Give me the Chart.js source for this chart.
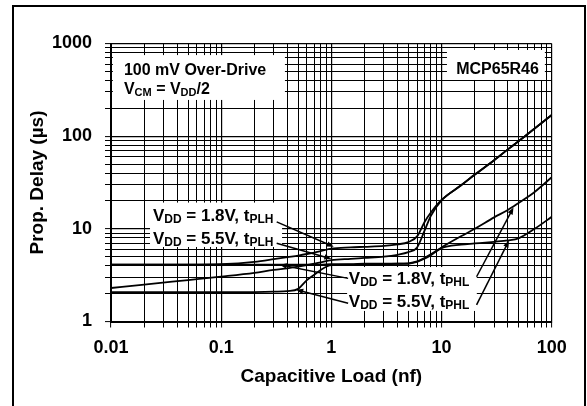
<!DOCTYPE html>
<html>
<head>
<meta charset="utf-8">
<script src="https://cdn.jsdelivr.net/npm/chart.js@4.4.0/dist/chart.umd.min.js"></script>
<style>
  html, body { margin: 0; padding: 0; background: #fff; }
  #wrap { width: 587px; height: 406px; }
</style>
</head>
<body>
<div id="wrap"><canvas id="delayChart" width="587" height="406"></canvas></div>
<script>
// capacitive load (nF)
const capLoad = [0.01, 0.02, 0.05, 0.1, 0.2, 0.3, 0.4, 0.5, 0.6, 0.7, 0.8, 1, 1.5, 2, 3, 4, 5, 6, 7, 8, 10, 15, 20, 30, 40, 50, 70, 100];

// propagation delay (us)
const vdd18Plh = [4.1, 4.1, 4.1, 4.15, 4.4, 4.7, 4.95, 5.15, 5.35, 5.55, 5.75, 6.1, 6.3, 6.4, 6.55, 6.8, 7.2, 8.3, 11.8, 15, 20.5, 29.5, 38.5, 55, 72, 88, 121, 169];
const vdd55Plh = [2.3, 2.5, 2.8, 3.05, 3.35, 3.6, 3.75, 3.9, 4.05, 4.2, 4.35, 4.6, 4.75, 4.85, 5.0, 5.25, 5.6, 6.3, 9.5, 13.8, 20.3, 29.3, 38.3, 55, 72, 88, 121, 169];
const vdd18Phl = [4.1, 4.1, 4.1, 4.1, 4.1, 4.1, 4.1, 4.1, 4.1, 4.1, 4.1, 4.15, 4.15, 4.2, 4.2, 4.2, 4.25, 4.45, 4.85, 5.3, 6.3, 8.3, 10, 13.3, 16, 19, 25, 36];
const vdd55Phl = [2.07, 2.07, 2.07, 2.07, 2.08, 2.1, 2.13, 2.25, 2.8, 3.2, 3.6, 4.05, 4.1, 4.15, 4.15, 4.2, 4.2, 4.4, 4.75, 5.2, 6.2, 6.75, 6.95, 7.25, 7.5, 7.9, 10, 13.5];

const xTickLabels = ['0.01', '0.1', '1', '10', '100'];
const yTickLabels = ['1', '10', '100', '1000'];

const FONT = "'Liberation Sans', Arial, sans-serif";

function logGrid(labels) {
  const out = [];
  const decades = labels.map(Number);
  decades.forEach((d, i) => {
    if (i === decades.length - 1) { out.push(d); return; }
    for (let m = 1; m <= 9; m++) out.push(+(m * d).toPrecision(6));
  });
  return out;
}
function isDecade(v) {
  const l = Math.log10(v);
  return Math.abs(l - Math.round(l)) < 1e-9;
}

function toPoints(ys) {
  return capLoad.map((c, i) => ({ x: c, y: ys[i] }));
}

function series(label, ys) {
  return {
    label: label,
    data: toPoints(ys),
    borderColor: '#000',
    borderWidth: 1.8,
    pointRadius: 0,
    fill: false,
    cubicInterpolationMode: 'monotone'
  };
}

// annotation layout, in data units (nF, us)
const boxes = [
  { x0: 0.0104, x1: 0.379, y0: 750, y1: 246 },
  { x0: 11.2, x1: 86.7, y0: 851, y1: 404 },
  { x0: 0.0226, x1: 0.357, y0: 19.2, y1: 6.37 },
  { x0: 1.39, x1: 20.9, y0: 3.87, y1: 1.30 }
];

const notes = [
  { x: 0.0131, y: 535, size: 16, align: 'left', parts: [['100 mV Over-Drive']] },
  { x: 0.0131, y: 327, size: 16, align: 'left', parts: [['V'], ['CM', 1], [' = V'], ['DD', 1], ['/2']] },
  { x: 76.5, y: 543, size: 16, align: 'right', parts: [['MCP65R46']] },
  { x: 0.024, y: 14.1, size: 17, align: 'left', parts: [['V'], ['DD', 1], [' = 1.8V, t'], ['PLH', 1]] },
  { x: 0.024, y: 8.06, size: 17, align: 'left', parts: [['V'], ['DD', 1], [' = 5.5V, t'], ['PLH', 1]] },
  { x: 1.44, y: 2.98, size: 17, align: 'left', parts: [['V'], ['DD', 1], [' = 1.8V, t'], ['PHL', 1]] },
  { x: 1.44, y: 1.685, size: 17, align: 'left', parts: [['V'], ['DD', 1], [' = 5.5V, t'], ['PHL', 1]] }
];

const arrows = [
  { from: [0.319, 11.9], to: [1.05, 6.4] },
  { from: [0.319, 6.98], to: [1.0, 4.75] },
  { from: [1.42, 2.92], to: [0.34, 4.1] },
  { from: [1.42, 1.57], to: [0.48, 2.2] },
  { from: [20.8, 3.04], to: [45, 17] },
  { from: [20.8, 1.51], to: [41, 7.5] }
];

function drawParts(ctx, note, px, py) {
  const main = 'bold ' + note.size + 'px ' + FONT;
  const sub = 'bold ' + Math.round(note.size * 0.7) + 'px ' + FONT;
  let total = 0;
  note.parts.forEach(p => { ctx.font = p[1] ? sub : main; total += ctx.measureText(p[0]).width; });
  let x = note.align === 'right' ? px - total : px;
  const base = py + Math.round(note.size * 0.36);
  ctx.textAlign = 'left';
  ctx.textBaseline = 'alphabetic';
  ctx.fillStyle = '#000';
  note.parts.forEach(p => {
    ctx.font = p[1] ? sub : main;
    ctx.fillText(p[0], x, p[1] ? base + 2 : base);
    x += ctx.measureText(p[0]).width;
  });
}

const annotations = {
  id: 'annotations',
  beforeDatasetsDraw(chart) {
    const { ctx, scales: { x, y } } = chart;
    ctx.save();
    ctx.fillStyle = '#fff';
    boxes.forEach(b => {
      const l = x.getPixelForValue(b.x0), r = x.getPixelForValue(b.x1);
      const t = y.getPixelForValue(b.y0), bt = y.getPixelForValue(b.y1);
      ctx.fillRect(l, t, r - l, bt - t);
    });
    ctx.restore();
  },
  afterDatasetsDraw(chart) {
    const { ctx, scales: { x, y } } = chart;
    ctx.save();
    notes.forEach(n => drawParts(ctx, n, x.getPixelForValue(n.x), y.getPixelForValue(n.y)));

    ctx.strokeStyle = '#000';
    ctx.fillStyle = '#000';
    ctx.lineWidth = 1.5;
    arrows.forEach(a => {
      const x0 = x.getPixelForValue(a.from[0]), y0 = y.getPixelForValue(a.from[1]);
      const x1 = x.getPixelForValue(a.to[0]), y1 = y.getPixelForValue(a.to[1]);
      const ang = Math.atan2(y1 - y0, x1 - x0);
      ctx.beginPath();
      ctx.moveTo(x0, y0);
      ctx.lineTo(x1 - 5 * Math.cos(ang), y1 - 5 * Math.sin(ang));
      ctx.stroke();
      ctx.beginPath();
      ctx.moveTo(x1, y1);
      ctx.lineTo(x1 - 7 * Math.cos(ang) + 2.8 * Math.sin(ang), y1 - 7 * Math.sin(ang) - 2.8 * Math.cos(ang));
      ctx.lineTo(x1 - 7 * Math.cos(ang) - 2.8 * Math.sin(ang), y1 - 7 * Math.sin(ang) + 2.8 * Math.cos(ang));
      ctx.closePath();
      ctx.fill();
    });
    ctx.restore();
  },
  afterDraw(chart) {
    const ctx = chart.ctx;
    ctx.save();
    ctx.strokeStyle = '#000';
    ctx.lineWidth = 2;
    ctx.beginPath();
    ctx.moveTo(13, 406);
    ctx.lineTo(13, 6);
    ctx.lineTo(585, 6);
    ctx.lineTo(585, 406);
    ctx.stroke();
    ctx.restore();
  }
};

const ctx = document.getElementById('delayChart').getContext('2d');

const gridStyle = {
  color: '#000',
  lineWidth: c => (c.tick && isDecade(c.tick.value) ? 1.2 : 1),
  drawTicks: true,
  tickLength: 6,
  tickColor: '#000',
  tickWidth: 1
};

new Chart(ctx, {
  type: 'line',
  data: {
    datasets: [
      series('VDD = 1.8V, tPLH', vdd18Plh),
      series('VDD = 5.5V, tPLH', vdd55Plh),
      series('VDD = 1.8V, tPHL', vdd18Phl),
      series('VDD = 5.5V, tPHL', vdd55Phl)
    ]
  },
  options: {
    responsive: false,
    animation: false,
    events: [],
    layout: { padding: { left: 22, top: 43.5, right: 35.3, bottom: 13.6 } },
    plugins: {
      legend: { display: false },
      tooltip: { enabled: false }
    },
    scales: {
      x: {
        type: 'logarithmic',
        min: 0.01,
        max: 100,
        afterBuildTicks: s => { s.ticks = logGrid(xTickLabels).map(v => ({ value: v })); },
        afterFit: s => { s.height = 406 - 13.6 - 321.5; },
        ticks: {
          autoSkip: false,
          maxRotation: 0,
          padding: 10,
          color: '#000',
          font: { family: FONT, size: 18, weight: 'bold' },
          callback: v => (isDecade(v) ? xTickLabels.find(t => Math.abs(Number(t) - v) < v * 1e-6) : '')
        },
        grid: gridStyle,
        border: { display: true, color: '#000', width: 2 },
        title: {
          display: true,
          text: 'Capacitive Load (nf)',
          color: '#000',
          padding: 4,
          font: { family: FONT, size: 19, weight: 'bold' }
        }
      },
      y: {
        type: 'logarithmic',
        min: 1,
        max: 1000,
        afterBuildTicks: s => { s.ticks = logGrid(yTickLabels).map(v => ({ value: v })); },
        afterFit: s => { s.width = 111 - 22; },
        ticks: {
          autoSkip: false,
          padding: 13,
          color: '#000',
          font: { family: FONT, size: 18, weight: 'bold' },
          callback: v => (isDecade(v) ? yTickLabels.find(t => Math.abs(Number(t) - v) < v * 1e-6) : '')
        },
        grid: gridStyle,
        border: { display: true, color: '#000', width: 2 },
        title: {
          display: true,
          text: 'Prop. Delay (µs)',
          color: '#000',
          padding: 4,
          font: { family: FONT, size: 19, weight: 'bold' }
        }
      }
    }
  },
  plugins: [annotations]
});
</script>
</body>
</html>
